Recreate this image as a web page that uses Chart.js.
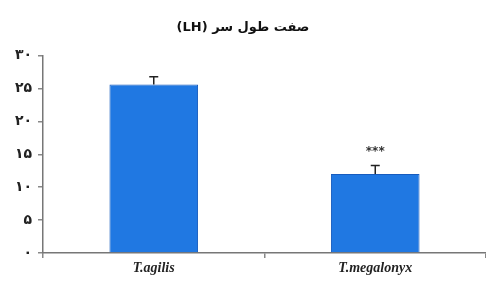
<!DOCTYPE html>
<html>
<head>
<meta charset="utf-8">
<script src="https://cdn.jsdelivr.net/npm/chart.js@4/dist/chart.umd.min.js"></script>
<style>
html,body{margin:0;padding:0;background:#fff;}
#wrap{width:486px;height:282px;}
</style>
</head>
<body>
<div id="wrap"><canvas id="c" width="486" height="282"></canvas></div>
<script>
const categories = ['T.agilis', 'T.megalonyx'];
const meanValues = [25.6, 12.0];
const errorValues = [1.2, 1.3];
const significance = ['', '***'];
const yTickValues = [0, 5, 10, 15, 20, 25, 30];
const yTickLabels = ['۰', '۵', '۱۰', '۱۵', '۲۰', '۲۵', '۳۰'];
const titleText = '\u202Bصفت طول سر (LH)\u202C';

const errorPlugin = {
  id: 'errorBars',
  afterDatasetsDraw(chart) {
    const ctx = chart.ctx;
    const meta = chart.getDatasetMeta(0);
    const y = chart.scales.y;
    ctx.save();
    meta.data.forEach((bar, i) => {
      const x = bar.x;
      const top = y.getPixelForValue(meanValues[i] + errorValues[i]);
      const base = y.getPixelForValue(meanValues[i]);
      ctx.strokeStyle = '#222';
      ctx.lineWidth = 1.5;
      ctx.beginPath();
      ctx.moveTo(x, base);
      ctx.lineTo(x, top);
      ctx.moveTo(x - 4.5, top);
      ctx.lineTo(x + 4.5, top);
      ctx.stroke();
      if (significance[i]) {
        ctx.fillStyle = '#333';
        ctx.font = 'bold 12px "DejaVu Sans"';
        ctx.textAlign = 'center';
        ctx.textBaseline = 'middle';
        ctx.fillText(significance[i], x, top - 14);
      }
    });
    ctx.restore();
  }
};

new Chart(document.getElementById('c'), {
  type: 'bar',
  data: {
    labels: categories,
    datasets: [{
      data: meanValues,
      backgroundColor: 'rgb(32,120,226)',
      borderColor: 'rgb(24,92,190)',
      borderWidth: 1,
      barPercentage: 0.8,
      categoryPercentage: 0.5
    }]
  },
  options: {
    responsive: false,
    animation: false,
    devicePixelRatio: 1,
    layout: { padding: { left: 0, right: 0, top: 0, bottom: 0 } },
    plugins: {
      legend: { display: false },
      tooltip: { enabled: false },
      title: {
        display: true,
        text: titleText,
        color: '#111',
        font: { family: 'DejaVu Sans', size: 13, weight: 'bold' },
        padding: { top: 20, bottom: 20 }
      }
    },
    scales: {
      x: {
        offset: true,
        grid: { offset: true, drawOnChartArea: false, drawTicks: true, tickLength: 5, color: '#888', lineWidth: 1.5 },
        border: { color: '#777', width: 1.5 },
        ticks: {
          color: '#222',
          padding: 2,
          font: { family: 'Liberation Serif', size: 14, style: 'italic', weight: 'bold' }
        },
        afterFit(s) { s.height = 29; }
      },
      y: {
        min: 0, max: 30,
        afterBuildTicks(s) { s.ticks = yTickValues.map(v => ({ value: v })); },
        grid: { drawOnChartArea: false, drawTicks: true, tickLength: 5, color: '#888', lineWidth: 1.5 },
        border: { color: '#777', width: 1.5 },
        ticks: {
          color: '#222',
          padding: 6,
          font: { family: 'DejaVu Sans', size: 14, weight: 'bold' },
          callback(v) { const i = yTickValues.indexOf(v); return i >= 0 ? yTickLabels[i] : ''; }
        },
        afterFit(s) { s.width = 43; }
      }
    }
  },
  plugins: [errorPlugin]
});
</script>
</body>
</html>
